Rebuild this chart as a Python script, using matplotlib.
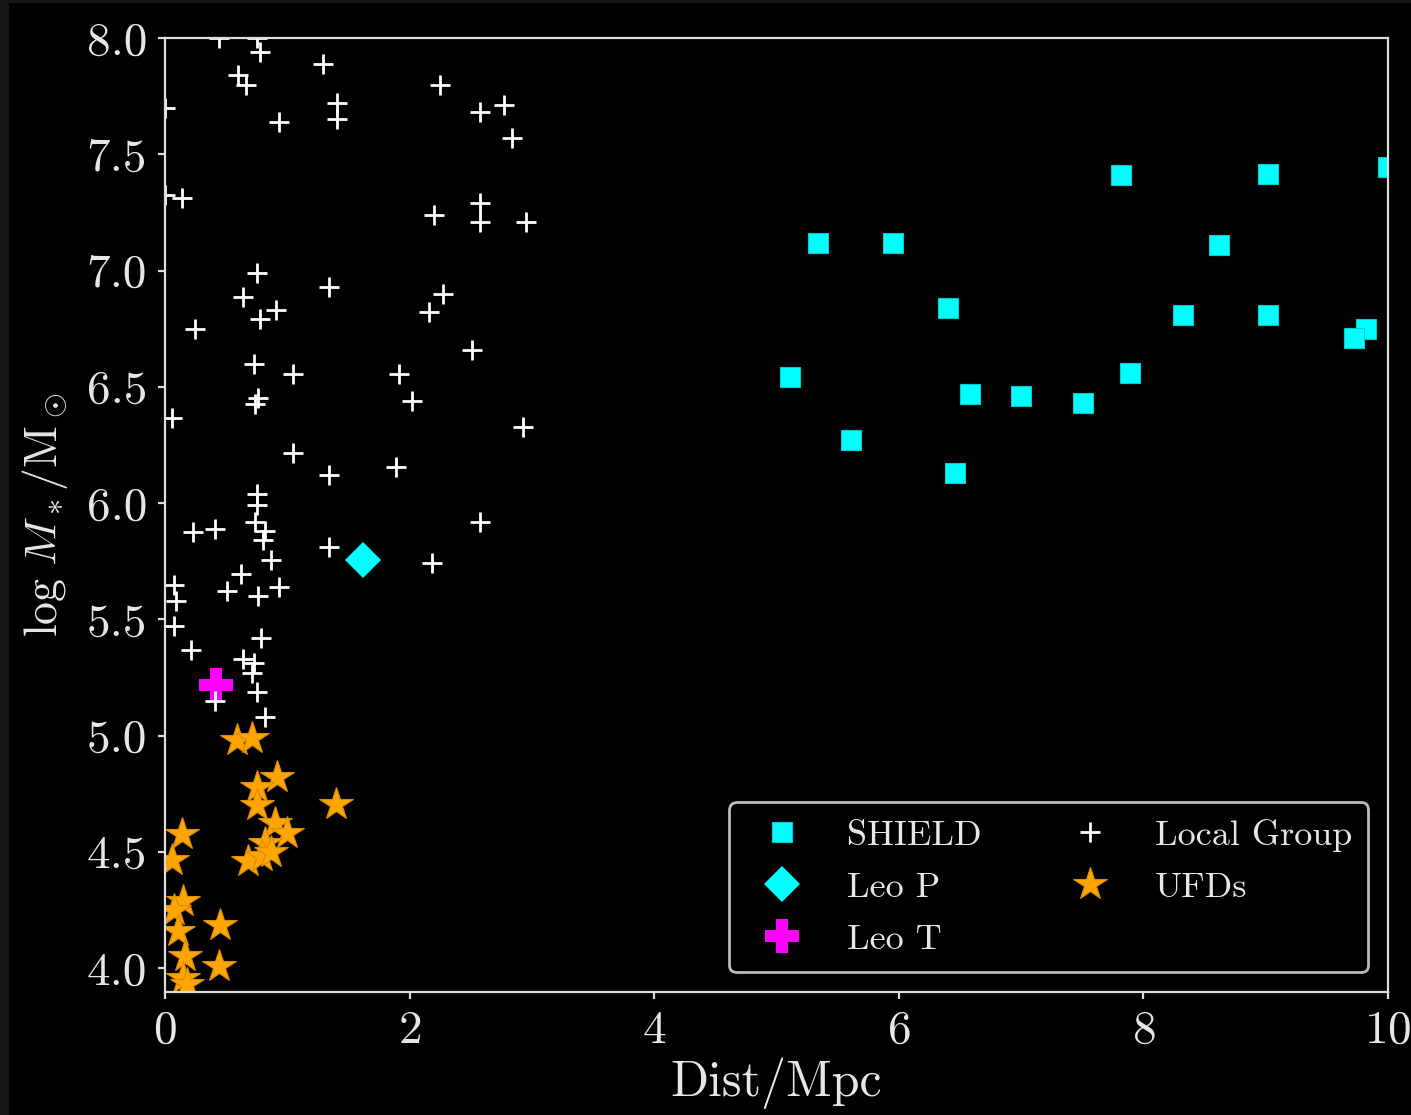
import matplotlib
matplotlib.use('Agg')
import matplotlib.pyplot as plt
from matplotlib.patches import Rectangle

plt.rcParams['font.family'] = 'cmr10'
plt.rcParams['mathtext.fontset'] = 'cm'
plt.rcParams['axes.formatter.use_mathtext'] = True

# SHIELD galaxies
shield_dist = [7.82, 9.02, 10.0, 5.34, 5.95, 8.62, 6.40, 8.32, 9.02, 9.82, 9.72,
               5.11, 7.89, 6.58, 7.00, 7.51, 5.61, 6.46]
shield_mass = [7.41, 7.415, 7.445, 7.12, 7.12, 7.11, 6.84, 6.81, 6.81, 6.75, 6.71,
               6.54, 6.56, 6.47, 6.46, 6.43, 6.27, 6.13]

# Leo P / Leo T
leop_dist = [1.62]
leop_mass = [5.756]
leot_dist = [0.417]
leot_mass = [5.218]

# Local Group dwarfs
lg_dist = [0.44, 0.75, 0.78, 1.29, 0.60, 0.66, 2.25, 2.58, 2.77, 2.84, 1.41, 1.41,
           0.93, 0.0, 0.14, 0.0, 2.20, 2.58, 2.58, 2.95, 0.75, 0.64, 1.34, 0.91,
           0.78, 2.27, 2.16, 0.245, 2.51, 0.73, 1.05, 1.91, 0.76, 0.74, 2.02, 0.06,
           2.93, 1.05, 1.34, 1.89, 0.75, 0.75, 0.74, 0.82, 0.80, 2.58, 0.23, 0.41,
           1.34, 2.18, 0.87, 0.62, 0.51, 0.76, 0.93, 0.07, 0.09, 0.07, 0.21, 0.785,
           0.64, 0.73, 0.71, 0.75, 0.41, 0.82]
lg_mass = [8.0, 8.0, 7.94, 7.89, 7.84, 7.80, 7.80, 7.68, 7.71, 7.57, 7.72, 7.65,
           7.64, 7.70, 7.31, 7.325, 7.24, 7.29, 7.21, 7.21, 6.99, 6.885, 6.93, 6.83,
           6.79, 6.90, 6.82, 6.75, 6.66, 6.60, 6.554, 6.554, 6.45, 6.425, 6.44, 6.365,
           6.326, 6.215, 6.12, 6.157, 6.04, 5.99, 5.92, 5.88, 5.84, 5.92, 5.875, 5.89,
           5.81, 5.744, 5.753, 5.696, 5.62, 5.60, 5.64, 5.648, 5.58, 5.47, 5.366, 5.42,
           5.33, 5.31, 5.27, 5.187, 5.15, 5.08]

# ultra-faint dwarfs
ufd_dist = [0.59, 0.71, 0.92, 0.75, 0.75, 1.40, 0.90, 0.995, 0.14, 0.82, 0.68,
            0.79, 0.87, 0.055, 0.15, 0.07, 0.45, 0.11, 0.16, 0.44, 0.15, 0.18]
ufd_mass = [4.98, 4.99, 4.82, 4.78, 4.70, 4.707, 4.624, 4.58, 4.578, 4.538, 4.459,
            4.48, 4.50, 4.466, 4.287, 4.25, 4.187, 4.158, 4.05, 4.007, 3.957, 3.93]


def main():
    fig = plt.figure(figsize=(7.055, 5.575), dpi=200, facecolor='#161616')
    # black canvas inside the thin dark frame
    fig.patches.append(Rectangle((9 / 1411, 0), 1, 1 - 3 / 1115, transform=fig.transFigure,
                                 facecolor='black', edgecolor='none', zorder=-10))
    ax = fig.add_axes([0.1169, 0.1103, 0.8668, 0.8556])
    ax.set_facecolor('black')

    ax.plot(shield_dist, shield_mass, 's', color='cyan', ms=7, mec='#00cccc', mew=0.4,
            ls='none', label='SHIELD')
    ax.plot(leop_dist, leop_mass, 'D', color='cyan', ms=9.2, mew=0, ls='none', label='Leo P')
    ax.plot(leot_dist, leot_mass, 'P', color='magenta', ms=12, mew=0, ls='none',
            label='Leo T')
    ax.plot(lg_dist, lg_mass, '+', color='white', ms=7.5, mew=1.0, ls='none',
            label='Local Group')
    ax.plot(ufd_dist, ufd_mass, '*', color='orange', ms=12.5, mec='#d98c00', mew=0.4,
            ls='none', label='UFDs')

    ax.set_xlim(0, 10)
    ax.set_ylim(3.897, 8.0)
    ax.set_xticks([0, 2, 4, 6, 8, 10])
    ax.set_yticks([4.0, 4.5, 5.0, 5.5, 6.0, 6.5, 7.0, 7.5, 8.0])
    ax.set_yticklabels(['4.0', '4.5', '5.0', '5.5', '6.0', '6.5', '7.0', '7.5', '8.0'])

    for sp in ax.spines.values():
        sp.set_color('#dddddd')
        sp.set_linewidth(0.8)
    ax.tick_params(axis='both', direction='out', length=2.5, width=0.8, color='#dddddd',
                   labelcolor='#e6e6e6', labelsize=17, pad=4)

    ax.set_xlabel('Dist/Mpc', fontsize=18, color='#e6e6e6', labelpad=2)
    ax.set_ylabel(r'$\log\, M_*/\mathrm{M}_\odot$', fontsize=16.5, color='#e6e6e6',
                  labelpad=6)

    leg = ax.legend(loc='lower right', ncol=2, fontsize=13, frameon=True,
                    facecolor='black', edgecolor='#bbbbbb', framealpha=1,
                    labelspacing=0.55, handletextpad=0.8, columnspacing=2.0,
                    borderpad=0.45, borderaxespad=0.55)
    for t in leg.get_texts():
        t.set_color('#e6e6e6')

    fig.savefig('out.png', dpi=200, facecolor=fig.get_facecolor())


if __name__ == '__main__':
    main()
